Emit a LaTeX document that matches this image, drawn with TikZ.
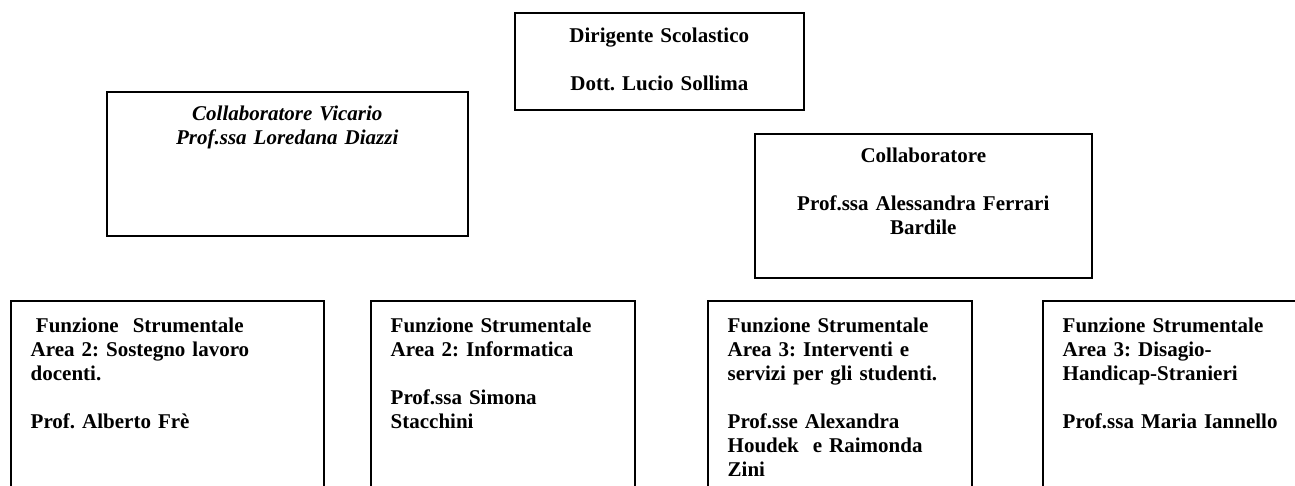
\documentclass[tikz,border=0pt]{standalone}
\usepackage{fontspec}
\setmainfont{Liberation Serif}
\usetikzlibrary{positioning}
\frenchspacing

\begin{document}
\begin{tikzpicture}[x=1pt, y=-1pt,
  orgbox/.style={draw, line width=1.6pt, inner sep=0pt, anchor=north west},
  orgtext/.style={inner sep=0pt, font=\fontsize{21}{24}\selectfont\bfseries,
    execute at begin node={\noindent\strut}}]
\useasboundingbox (0,0) rectangle (1295,486);
\clip (0,0) rectangle (1295,486);

\node [orgbox, minimum width=289pt, minimum height=97pt] (dirigente) at (514,12) {};
\node [orgtext, align=center, text width=280pt, below=14pt of dirigente.north] (dirigentetxt)
  {Dirigente Scolastico\\[24pt]Dott. Lucio Sollima};

\node [orgbox, minimum width=361pt, minimum height=144pt] (vicario) at (106,91) {};
\node [orgtext, align=center, text width=340pt, font=\fontsize{21}{24}\selectfont\bfseries\itshape,
  below=12.5pt of vicario.north] (vicariotxt)
  {Collaboratore Vicario\\Prof.ssa Loredana Diazzi};

\node [orgbox, minimum width=337pt, minimum height=144pt] (collab) at (754,133) {};
\node [orgtext, align=center, text width=320pt, below=13pt of collab.north] (collabtxt)
  {Collaboratore\\[24pt]Prof.ssa Alessandra Ferrari\\Bardile};

\node [orgbox, minimum width=313pt, minimum height=200pt] (fs1) at (10,300) {};
\node [orgtext, align=left, text width=285pt, below right=15pt and 20.5pt of fs1.north west] (fs1txt)
  {\hspace{0.25em}Funzione\ \ Strumentale\\Area 2: Sostegno lavoro\\docenti.\\[24pt]Prof. Alberto Frè};

\node [orgbox, minimum width=264pt, minimum height=200pt] (fs2) at (370,300) {};
\node [orgtext, align=left, text width=240pt, below right=15pt and 20.5pt of fs2.north west] (fs2txt)
  {Funzione Strumentale\\Area 2: Informatica\\[24pt]Prof.ssa Simona\\Stacchini};

\node [orgbox, minimum width=264pt, minimum height=200pt] (fs3) at (707,300) {};
\node [orgtext, align=left, text width=240pt, below right=15pt and 20.5pt of fs3.north west] (fs3txt)
  {Funzione Strumentale\\Area 3: Interventi e\\servizi per gli studenti.\\[24pt]Prof.sse Alexandra\\Houdek\ \ e Raimonda\\Zini};

\node [orgbox, minimum width=300pt, minimum height=200pt] (fs4) at (1042,300) {};
\node [orgtext, align=left, text width=240pt, below right=15pt and 20.5pt of fs4.north west] (fs4txt)
  {Funzione Strumentale\\Area 3: Disagio-\\Handicap-Stranieri\\[24pt]Prof.ssa Maria Iannello};

\end{tikzpicture}
\end{document}
